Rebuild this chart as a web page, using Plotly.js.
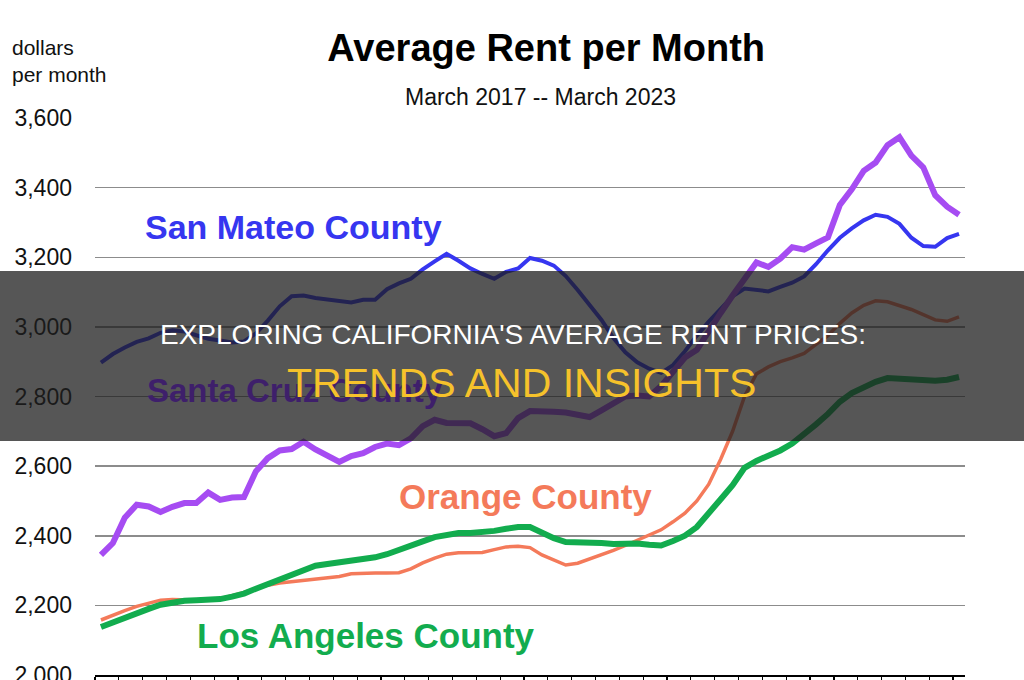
<!DOCTYPE html>
<html>
<head>
<meta charset="utf-8">
<script src="https://cdn.plot.ly/plotly-3.0.1.min.js"></script>
<style>
  html, body { margin: 0; padding: 0; background: #ffffff; }
  #chart { width: 1024px; height: 680px; }
</style>
</head>
<body>
<div id="chart"></div>
<script>
// Months: March 2017 -- March 2023
const months = [
  "2017-03","2017-04","2017-05","2017-06","2017-07","2017-08","2017-09","2017-10","2017-11","2017-12",
  "2018-01","2018-02","2018-03","2018-04","2018-05","2018-06","2018-07","2018-08","2018-09","2018-10","2018-11","2018-12",
  "2019-01","2019-02","2019-03","2019-04","2019-05","2019-06","2019-07","2019-08","2019-09","2019-10","2019-11","2019-12",
  "2020-01","2020-02","2020-03","2020-04","2020-05","2020-06","2020-07","2020-08","2020-09","2020-10","2020-11","2020-12",
  "2021-01","2021-02","2021-03","2021-04","2021-05","2021-06","2021-07","2021-08","2021-09","2021-10","2021-11","2021-12",
  "2022-01","2022-02","2022-03","2022-04","2022-05","2022-06","2022-07","2022-08","2022-09","2022-10","2022-11","2022-12",
  "2023-01","2023-02","2023-03"
];

const sanMateo = [
  2897,2922,2941,2957,2967,2983,2990,2987,2976,2966,
  2961,2955,2958,2981,3018,3059,3088,3090,3083,3079,3073,3070,
  3078,3078,3108,3125,3138,3165,3188,3210,3190,3168,3152,3138,
  3158,3168,3198,3190,3176,3146,3106,3065,3020,2968,2927,2898,
  2880,2868,2890,2930,2975,3015,3050,3088,3110,3106,3102,3115,
  3127,3145,3180,3220,3256,3283,3306,3322,3316,3296,3256,3232,
  3230,3255,3267
];

const santaCruz = [
  2345,2379,2452,2489,2484,2468,2483,2494,2494,2524,
  2503,2510,2511,2585,2623,2645,2649,2670,2648,2628,2612,2629,
  2637,2655,2665,2660,2680,2715,2733,2724,2722,2723,2706,2686,
  2695,2738,2758,2759,2756,2754,2747,2741,2760,2782,2800,2803,
  2800,2830,2870,2912,2934,2990,3040,3090,3140,3185,3172,3196,
  3229,3222,3240,3257,3350,3395,3448,3472,3522,3545,3492,3458,
  3378,3345,3322
];

const orange = [
  2158,2172,2185,2197,2207,2215,2217,2215,2215,2215,
  2219,2228,2237,2249,2258,2264,2268,2271,2276,2279,2283,2291,
  2293,2293,2293,2294,2305,2322,2336,2347,2351,2351,2352,2360,
  2368,2370,2366,2345,2330,2316,2321,2333,2345,2358,2372,2387,
  2400,2417,2440,2465,2500,2548,2620,2700,2800,2865,2885,2900,
  2911,2924,2950,2975,3010,3040,3062,3075,3072,3062,3050,3035,
  3020,3016,3029
];

const losAngeles = [
  2138,2152,2166,2177,2190,2202,2208,2213,2215,2215,
  2218,2225,2234,2248,2262,2276,2290,2303,2314,2319,2324,2328,
  2331,2338,2347,2358,2370,2384,2396,2403,2408,2408,2410,2414,
  2420,2425,2425,2408,2393,2382,2382,2381,2379,2376,2378,2378,
  2374,2372,2385,2400,2425,2462,2505,2545,2595,2615,2630,2645,
  2665,2690,2720,2750,2785,2810,2828,2842,2853,2851,2848,2844,
  2845,2848,2856
];

const seriesNames = ["San Mateo County", "Santa Cruz County", "Orange County", "Los Angeles County"];
const yTicks = [2000, 2200, 2400, 2600, 2800, 3000, 3200, 3400, 3600];

const SANS = "'Liberation Sans', Arial, sans-serif";

const C_BLUE = "#3636f0";
const C_PURPLE = "#a64cf2";
const C_ORANGE = "#f47a5a";
const C_GREEN = "#12ac4e";

const traces = [
  { name: seriesNames[2], x: months, y: orange, type: "scatter", mode: "lines",
    line: { color: C_ORANGE, width: 3.5 } },
  { name: seriesNames[3], x: months, y: losAngeles, type: "scatter", mode: "lines",
    line: { color: C_GREEN, width: 6 } },
  { name: seriesNames[0], x: months, y: sanMateo, type: "scatter", mode: "lines",
    line: { color: C_BLUE, width: 4 } },
  { name: seriesNames[1], x: months, y: santaCruz, type: "scatter", mode: "lines",
    line: { color: C_PURPLE, width: 6 } }
];

const layout = {
  width: 1024, height: 680,
  margin: { l: 95, r: 59, t: 118, b: 5, pad: 0 },
  paper_bgcolor: "#ffffff",
  plot_bgcolor: "#ffffff",
  showlegend: false,
  title: {
    text: "<b>Average Rent per Month</b>",
    font: { family: SANS, size: 38, color: "#000000" },
    x: 0.5186, xanchor: "center", xref: "paper",
    y: 1 - 48 / 680, yanchor: "middle", yref: "container"
  },
  xaxis: {
    type: "category",
    range: [-0.5, months.length - 0.5],
    showgrid: false, zeroline: false,
    showline: true, linecolor: "#000000", linewidth: 1.5,
    ticks: "outside", tickson: "boundaries", ticklen: 8, tickwidth: 1.2, tickcolor: "#000000",
    showticklabels: false,
    fixedrange: true
  },
  yaxis: {
    range: [2000, 3600],
    tickmode: "array", tickvals: yTicks,
    tickformat: ",d",
    showgrid: true, gridcolor: "#8c8c8c", gridwidth: 1.5,
    zeroline: false, showline: false,
    ticks: "", ticklabelstandoff: 22,
    ticklabeloverflow: "allow",
    tickfont: { family: SANS, size: 23, color: "#111111" },
    fixedrange: true
  },
  shapes: [
    { type: "rect", xref: "paper", yref: "paper", layer: "above",
      x0: -95 / 870, x1: (1024 - 95) / 870,
      y0: (675 - 441) / 557, y1: (675 - 271) / 557,
      fillcolor: "rgba(30,30,30,0.75)", line: { width: 0 } }
  ],
  annotations: [
    { text: "March 2017 -- March 2023", xref: "paper", yref: "paper",
      x: 0.5126, y: (675 - 97) / 557, xanchor: "center", yanchor: "middle", showarrow: false,
      font: { family: SANS, size: 23, color: "#111111" } },
    { text: "dollars<br>per month", xref: "paper", yref: "paper", align: "left",
      x: (10 - 95) / 870, y: (675 - 61) / 557, xanchor: "left", yanchor: "middle", showarrow: false,
      font: { family: SANS, size: 21, color: "#111111" } },
    { text: "<b>" + seriesNames[0] + "</b>", xref: "paper", yref: "paper",
      x: (293 - 95) / 870, y: (675 - 227) / 557, xanchor: "center", yanchor: "middle", showarrow: false,
      font: { family: SANS, size: 34, color: C_BLUE } },
    { text: "<b>" + seriesNames[1] + "</b>", xref: "paper", yref: "paper",
      x: (295 - 95) / 870, y: (675 - 390) / 557, xanchor: "center", yanchor: "middle", showarrow: false,
      font: { family: SANS, size: 33, color: "#3e1f6b" } },
    { text: "<b>" + seriesNames[2] + "</b>", xref: "paper", yref: "paper",
      x: (525 - 95) / 870, y: (675 - 496) / 557, xanchor: "center", yanchor: "middle", showarrow: false,
      font: { family: SANS, size: 35, color: C_ORANGE } },
    { text: "<b>" + seriesNames[3] + "</b>", xref: "paper", yref: "paper",
      x: (366 - 95) / 870, y: (675 - 635) / 557, xanchor: "center", yanchor: "middle", showarrow: false,
      font: { family: SANS, size: 35, color: C_GREEN } },
    { text: "EXPLORING CALIFORNIA'S AVERAGE RENT PRICES:", xref: "paper", yref: "paper",
      x: (513 - 95) / 870, y: (675 - 334) / 557, xanchor: "center", yanchor: "middle", showarrow: false,
      font: { family: SANS, size: 28, color: "#ffffff" } },
    { text: "TRENDS AND INSIGHTS", xref: "paper", yref: "paper",
      x: (521 - 95) / 870, y: (675 - 383) / 557, xanchor: "center", yanchor: "middle", showarrow: false,
      font: { family: SANS, size: 41, color: "#f6c22b" } }
  ]
};

Plotly.newPlot("chart", traces, layout, { displayModeBar: false, staticPlot: true });
</script>
</body>
</html>
